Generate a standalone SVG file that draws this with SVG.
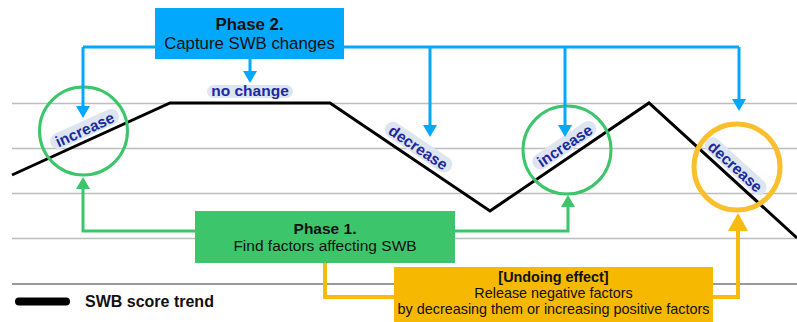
<svg xmlns="http://www.w3.org/2000/svg" width="797" height="322" viewBox="0 0 797 322">
<defs>
<style>
.grid{stroke:#bdbdbd;stroke-width:1.3;fill:none}
.trend{stroke:#000;stroke-width:3;fill:none;stroke-linejoin:miter}
.pill{fill:#dde5f1}
.lbl{font-family:"Liberation Sans",Arial,sans-serif;font-weight:bold;font-size:15.5px;fill:#1b2a9c;text-anchor:middle}
.blue{stroke:#02a8fb;stroke-width:3;fill:none}
.green{stroke:#3cc56b;stroke-width:3;fill:none}
.orange{stroke:#f7bb10;stroke-width:4;fill:none}
.box{font-family:"Liberation Sans",Arial,sans-serif;font-size:15.5px;fill:#111;text-anchor:middle}
.b{font-weight:bold}
.p2{font-size:16.8px}
.ud{font-size:14.4px}
</style>
<marker id="aBlue" markerUnits="userSpaceOnUse" markerWidth="12" markerHeight="14" refX="6" refY="7" orient="auto"><path d="M0,0 L12,7 L0,14 z" fill="#02a8fb"/></marker>
<marker id="aGreen" markerUnits="userSpaceOnUse" markerWidth="12" markerHeight="14" refX="6" refY="7" orient="auto"><path d="M0,0 L12,7 L0,14 z" fill="#3cc56b"/></marker>
<marker id="aOrange" markerUnits="userSpaceOnUse" markerWidth="18" markerHeight="20" refX="8" refY="10" orient="auto"><path d="M0,0 L18,10 L0,20 z" fill="#f7bb10"/></marker>
</defs>
<rect width="797" height="322" fill="#fff"/>
<g id="grid">
<line class="grid" x1="12" y1="103.5" x2="797" y2="103.5"/>
<line class="grid" x1="12" y1="148.5" x2="797" y2="148.5"/>
<line class="grid" x1="12" y1="193.5" x2="797" y2="193.5"/>
<line class="grid" x1="12" y1="238.5" x2="797" y2="238.5"/>
<line x1="12" y1="284" x2="797" y2="284" stroke="#777" stroke-width="1.5"/>
</g>
<g id="trend">
<polyline class="trend" points="12,175 170,103 330,103 490,211 649,103 797,238"/>
</g>
<g id="labels">
<g transform="translate(85,130) rotate(-24.5)"><rect class="pill" x="-37" y="-9" width="74" height="16" rx="8"/><text class="lbl" x="0" y="5">increase</text></g>
<g transform="translate(250,92)"><rect class="pill" x="-43" y="-7" width="86" height="13" rx="6.5"/><text class="lbl" x="0" y="4">no change</text></g>
<g transform="translate(418,148) rotate(34)"><rect class="pill" x="-39" y="-9" width="78" height="16" rx="8"/><text class="lbl" x="0" y="5">decrease</text></g>
<g transform="translate(565,146) rotate(-34)"><rect class="pill" x="-37" y="-9" width="74" height="16" rx="8"/><text class="lbl" x="0" y="5">increase</text></g>
<g transform="translate(735,167) rotate(42.4)"><rect class="pill" x="-39" y="-9" width="78" height="16" rx="8"/><text class="lbl" x="0" y="5">decrease</text></g>
</g>
<g id="circles">
<circle id="c1" cx="83.5" cy="131" r="44" fill="none" stroke="#3cc56b" stroke-width="3"/>
<circle id="c2" cx="567" cy="150" r="44" fill="none" stroke="#3cc56b" stroke-width="3"/>
<circle id="c3" cx="737" cy="167" r="43" fill="none" stroke="#fbbf2e" stroke-width="5"/>
</g>
<g id="connectors">
<path class="blue" d="M83,47 H739"/>
<path class="blue" d="M83,47 V112" marker-end="url(#aBlue)"/>
<path class="blue" d="M250,59 V77" marker-end="url(#aBlue)"/>
<path class="blue" d="M430,47 V131" marker-end="url(#aBlue)"/>
<path class="blue" d="M565,47 V131" marker-end="url(#aBlue)"/>
<path class="blue" d="M739,47 V105" marker-end="url(#aBlue)"/>
<path class="green" d="M195,231 H83 V183" marker-end="url(#aGreen)"/>
<path class="green" d="M455,231 H568 V201" marker-end="url(#aGreen)"/>
<path class="orange" d="M325,263 V297 H395"/>
<path class="orange" d="M712,297 H738 V223" marker-end="url(#aOrange)"/>
</g>
<g id="phase2">
<rect x="155" y="8" width="189" height="51" fill="#02a8fb"/>
<text class="box b p2" x="249.5" y="30">Phase 2.</text>
<text class="box p2" x="249.5" y="49">Capture SWB changes</text>
</g>
<g id="phase1">
<rect x="195" y="211" width="260" height="52" fill="#3cc56b"/>
<text class="box b" x="325" y="234">Phase 1.</text>
<text class="box" x="325" y="251">Find factors affecting SWB</text>
</g>
<g id="undoing">
<rect x="394" y="267" width="319" height="55" fill="#f6b800"/>
<text class="box b ud" x="553.5" y="282">[Undoing effect]</text>
<text class="box ud" x="553.5" y="298">Release negative factors</text>
<text class="box ud" x="553.5" y="314">by decreasing them or increasing positive factors</text>
</g>
<g id="legend">
<line x1="19" y1="301.5" x2="66" y2="301.5" stroke="#000" stroke-width="8" stroke-linecap="round"/>
<text x="85" y="307" font-family="Liberation Sans,Arial,sans-serif" font-weight="bold" font-size="16" fill="#111">SWB score trend</text>
</g>
</svg>
